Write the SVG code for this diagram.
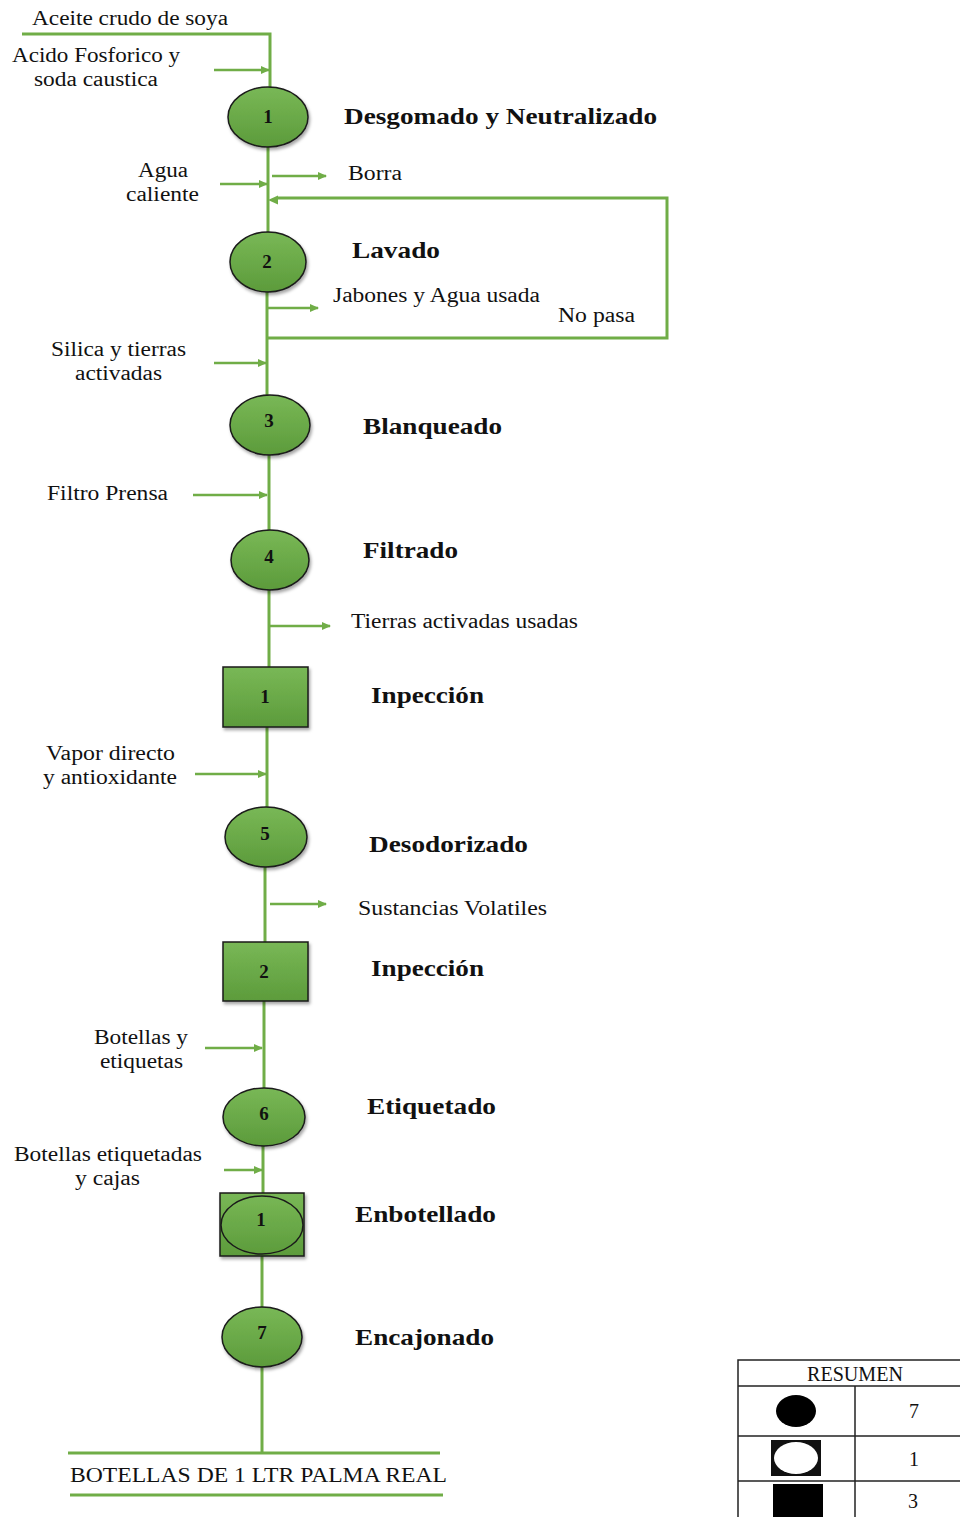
<svg xmlns="http://www.w3.org/2000/svg" width="960" height="1517" viewBox="0 0 960 1517">
  <style>
    .ln{stroke:#70ad47;stroke-width:3;fill:none}
    .ar{stroke:#70ad47;stroke-width:2.5;fill:none;marker-end:url(#ah)}
    .lb{font-family:"Liberation Serif","Times New Roman",serif;font-size:20px;fill:#111}
    .tt{font-family:"Liberation Serif","Times New Roman",serif;font-size:23px;font-weight:bold;fill:#111}
    .nm{font-family:"Liberation Serif","Times New Roman",serif;font-size:19px;font-weight:bold;fill:#111;text-anchor:middle}
    .sh{fill:url(#gf);stroke:#1a1a1a;stroke-width:1.5;filter:url(#ds)}
    .tb{stroke:#222;stroke-width:1.5;fill:none}
  </style>
  <defs>
    <linearGradient id="gf" x1="0" y1="0" x2="0" y2="1">
      <stop offset="0" stop-color="#79b856"/>
      <stop offset="1" stop-color="#5c9b3b"/>
    </linearGradient>
    <filter id="ds" x="-20%" y="-20%" width="150%" height="150%">
      <feDropShadow dx="1.5" dy="2.5" stdDeviation="1.5" flood-color="#000" flood-opacity="0.35"/>
    </filter>
    <marker id="ah" markerWidth="10" markerHeight="10" refX="8" refY="4" orient="auto" markerUnits="userSpaceOnUse">
      <path d="M0,0 L9,4 L0,8 Z" fill="#70ad47"/>
    </marker>
  </defs>

  <rect width="960" height="1517" fill="#fff"/>

  <!-- connectors -->
  <g id="connectors">
    <path class="ln" d="M22,34 H270 V88"/>
    <path class="ln" d="M268,147 V232"/>
    <path class="ln" d="M267,292 V395"/>
    <path class="ln" d="M269,455 V530"/>
    <path class="ln" d="M269,590 V667"/>
    <path class="ln" d="M267,727 V807"/>
    <path class="ln" d="M265,867 V942"/>
    <path class="ln" d="M264,1001 V1088"/>
    <path class="ln" d="M263,1146 V1193"/>
    <path class="ln" d="M262,1256 V1307"/>
    <path class="ln" d="M262,1367 V1453"/>
    <!-- rework loop -->
    <path class="ln" d="M268,338 H667 V198 H278"/>
    <path d="M268,200 L278,195.5 L278,204.5 Z" fill="#70ad47"/>
    <!-- inputs -->
    <line class="ar" x1="214" y1="70" x2="269" y2="70"/>
    <line class="ar" x1="220" y1="184" x2="267" y2="184"/>
    <line class="ar" x1="214" y1="363" x2="266" y2="363"/>
    <line class="ar" x1="193" y1="495" x2="267" y2="495"/>
    <line class="ar" x1="195" y1="774" x2="266" y2="774"/>
    <line class="ar" x1="205" y1="1048" x2="262" y2="1048"/>
    <line class="ar" x1="224" y1="1170" x2="262" y2="1170"/>
    <!-- outputs -->
    <line class="ar" x1="272" y1="176" x2="326" y2="176"/>
    <line class="ar" x1="268" y1="308" x2="318" y2="308"/>
    <line class="ar" x1="270" y1="626" x2="330" y2="626"/>
    <line class="ar" x1="270" y1="904" x2="326" y2="904"/>
    <!-- final product lines -->
    <line class="ln" x1="68" y1="1453" x2="440" y2="1453"/>
    <line class="ln" x1="70" y1="1495" x2="443" y2="1495"/>
  </g>

  <!-- input / output labels -->
  <g id="labels">
    <text class="lb" x="32" y="25" textLength="196" lengthAdjust="spacingAndGlyphs">Aceite crudo de soya</text>
    <text class="lb" x="12" y="62" textLength="168" lengthAdjust="spacingAndGlyphs">Acido Fosforico y</text>
    <text class="lb" x="34" y="86" textLength="124" lengthAdjust="spacingAndGlyphs">soda caustica</text>
    <text class="lb" x="138" y="177" textLength="50" lengthAdjust="spacingAndGlyphs">Agua</text>
    <text class="lb" x="126" y="201" textLength="73" lengthAdjust="spacingAndGlyphs">caliente</text>
    <text class="lb" x="348" y="180" textLength="54" lengthAdjust="spacingAndGlyphs">Borra</text>
    <text class="lb" x="333" y="302" textLength="207" lengthAdjust="spacingAndGlyphs">Jabones y Agua usada</text>
    <text class="lb" x="558" y="322" textLength="77" lengthAdjust="spacingAndGlyphs">No pasa</text>
    <text class="lb" x="51" y="356" textLength="135" lengthAdjust="spacingAndGlyphs">Silica y tierras</text>
    <text class="lb" x="75" y="380" textLength="87" lengthAdjust="spacingAndGlyphs">activadas</text>
    <text class="lb" x="47" y="500" textLength="121" lengthAdjust="spacingAndGlyphs">Filtro Prensa</text>
    <text class="lb" x="351" y="628" textLength="227" lengthAdjust="spacingAndGlyphs">Tierras activadas usadas</text>
    <text class="lb" x="46" y="760" textLength="129" lengthAdjust="spacingAndGlyphs">Vapor directo</text>
    <text class="lb" x="43" y="784" textLength="134" lengthAdjust="spacingAndGlyphs">y antioxidante</text>
    <text class="lb" x="358" y="915" textLength="189" lengthAdjust="spacingAndGlyphs">Sustancias Volatiles</text>
    <text class="lb" x="94" y="1044" textLength="94" lengthAdjust="spacingAndGlyphs">Botellas y</text>
    <text class="lb" x="100" y="1068" textLength="83" lengthAdjust="spacingAndGlyphs">etiquetas</text>
    <text class="lb" x="14" y="1161" textLength="188" lengthAdjust="spacingAndGlyphs">Botellas etiquetadas</text>
    <text class="lb" x="75" y="1185" textLength="65" lengthAdjust="spacingAndGlyphs">y cajas</text>
    <text class="lb" x="70" y="1482" textLength="377" lengthAdjust="spacingAndGlyphs">BOTELLAS DE 1 LTR PALMA REAL</text>
  </g>

  <!-- process steps -->
  <g id="op1">
    <ellipse class="sh" cx="268" cy="117" rx="40" ry="30"/>
    <text class="nm" x="268" y="123">1</text>
    <text class="tt" x="344" y="124" textLength="313" lengthAdjust="spacingAndGlyphs">Desgomado y Neutralizado</text>
  </g>
  <g id="op2">
    <ellipse class="sh" cx="268" cy="262" rx="38" ry="30"/>
    <text class="nm" x="267" y="268">2</text>
    <text class="tt" x="352" y="258" textLength="88" lengthAdjust="spacingAndGlyphs">Lavado</text>
  </g>
  <g id="op3">
    <ellipse class="sh" cx="270" cy="425" rx="40" ry="30"/>
    <text class="nm" x="269" y="427">3</text>
    <text class="tt" x="363" y="434" textLength="139" lengthAdjust="spacingAndGlyphs">Blanqueado</text>
  </g>
  <g id="op4">
    <ellipse class="sh" cx="270" cy="560" rx="39" ry="30"/>
    <text class="nm" x="269" y="563">4</text>
    <text class="tt" x="363" y="558" textLength="95" lengthAdjust="spacingAndGlyphs">Filtrado</text>
  </g>
  <g id="insp1">
    <rect class="sh" x="223" y="667" width="85" height="60"/>
    <text class="nm" x="265" y="703">1</text>
    <text class="tt" x="371" y="703" textLength="113" lengthAdjust="spacingAndGlyphs">Inpección</text>
  </g>
  <g id="op5">
    <ellipse class="sh" cx="266" cy="837" rx="41" ry="30"/>
    <text class="nm" x="265" y="840">5</text>
    <text class="tt" x="369" y="852" textLength="159" lengthAdjust="spacingAndGlyphs">Desodorizado</text>
  </g>
  <g id="insp2">
    <rect class="sh" x="223" y="942" width="85" height="59"/>
    <text class="nm" x="264" y="978">2</text>
    <text class="tt" x="371" y="976" textLength="113" lengthAdjust="spacingAndGlyphs">Inpección</text>
  </g>
  <g id="op6">
    <ellipse class="sh" cx="264" cy="1117" rx="41" ry="29"/>
    <text class="nm" x="264" y="1120">6</text>
    <text class="tt" x="367" y="1114" textLength="129" lengthAdjust="spacingAndGlyphs">Etiquetado</text>
  </g>
  <g id="combined1">
    <rect class="sh" x="220" y="1193" width="84" height="63"/>
    <ellipse cx="262" cy="1225" rx="41" ry="29" fill="none" stroke="#1a1a1a" stroke-width="1.5"/>
    <text class="nm" x="261" y="1226">1</text>
    <text class="tt" x="355" y="1222" textLength="141" lengthAdjust="spacingAndGlyphs">Enbotellado</text>
  </g>
  <g id="op7">
    <ellipse class="sh" cx="262" cy="1337" rx="40" ry="30"/>
    <text class="nm" x="262" y="1339">7</text>
    <text class="tt" x="355" y="1345" textLength="139" lengthAdjust="spacingAndGlyphs">Encajonado</text>
  </g>

  <!-- summary table -->
  <g id="resumen">
    <rect class="tb" x="738" y="1360" width="230" height="170"/>
    <line class="tb" x1="738" y1="1386" x2="960" y2="1386"/>
    <line class="tb" x1="738" y1="1436" x2="960" y2="1436"/>
    <line class="tb" x1="738" y1="1481" x2="960" y2="1481"/>
    <line class="tb" x1="855" y1="1386" x2="855" y2="1517"/>
    <text class="lb" x="807" y="1381" font-size="17" textLength="96" lengthAdjust="spacingAndGlyphs">RESUMEN</text>
    <ellipse cx="796" cy="1411" rx="20" ry="16" fill="#000"/>
    <rect x="771" y="1440" width="50" height="36" fill="#111"/>
    <ellipse cx="796" cy="1458" rx="22" ry="16" fill="#fff"/>
    <rect x="773" y="1484" width="50" height="33" fill="#000"/>
    <text class="lb" x="914" y="1418" text-anchor="middle" font-size="17">7</text>
    <text class="lb" x="914" y="1466" text-anchor="middle" font-size="17">1</text>
    <text class="lb" x="913" y="1508" text-anchor="middle" font-size="17">3</text>
  </g>
</svg>
